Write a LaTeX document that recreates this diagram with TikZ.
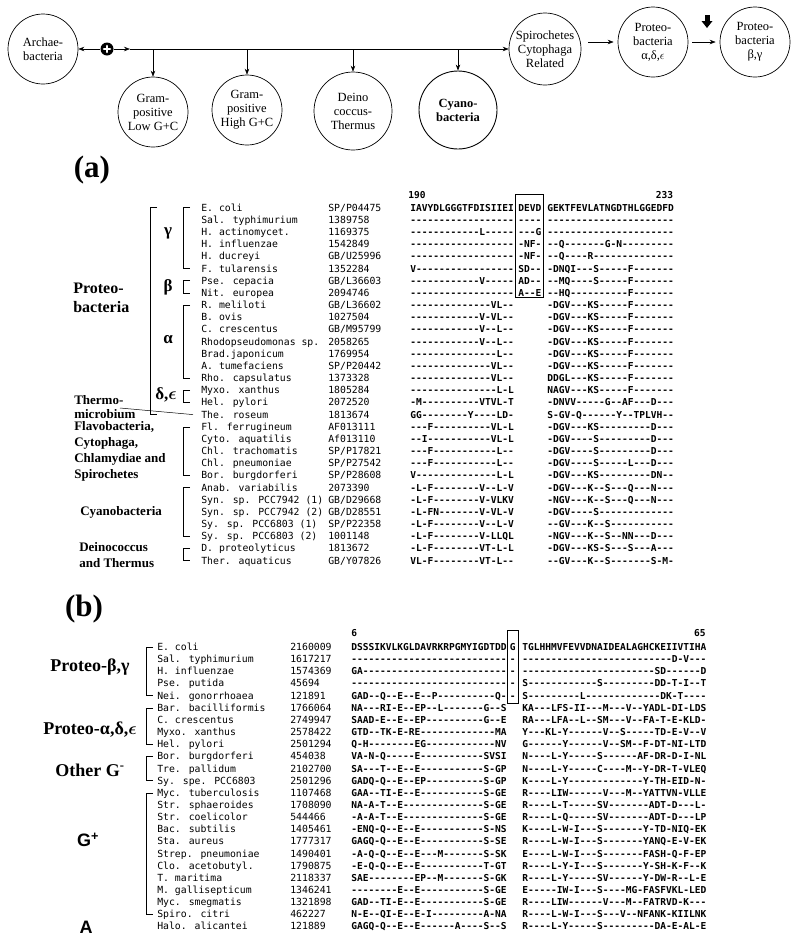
\documentclass[tikz,border=0pt]{standalone}
\usepackage{fontspec}
\setmainfont{Liberation Serif}
\setsansfont{Liberation Sans}
\newfontfamily\seqfont[Ligatures=TeXOff]{DejaVu Sans Mono}
\newfontfamily\namefont[Ligatures=TeXOff]{DejaVu Sans Mono}
\usetikzlibrary{arrows.meta,calc}
\ExplSyntaxOn
\cs_new:Npn \dsh #1 { \prg_replicate:nn {#1} {-} }
\ExplSyntaxOff
\newcommand\seqA[6]{%
 \node[nm] (an#1) at (201,{207.7+(#1-1)*12.17}) {#2};
 \node[nm] (ac#1) at (328,{207.7+(#1-1)*12.17}) {#3};
 \node[sq] (al#1) at (410,{207.7+(#1-1)*12.17}) {#4};
 \node[sq] (ab#1) at (518,{207.7+(#1-1)*12.17}) {#5};
 \node[sq] (ar#1) at (547,{207.7+(#1-1)*12.17}) {#6};
}
\newcommand\seqB[6]{%
 \node[nm] (bn#1) at (157,{647+(#1-1)*12.15}) {#2};
 \node[nm] (bc#1) at (290,{647+(#1-1)*12.15}) {#3};
 \node[sq] (bl#1) at (351,{647+(#1-1)*12.15}) {#4};
 \node[sq] (bb#1) at (509.5,{647+(#1-1)*12.15}) {#5};
 \node[sq] (br#1) at (522,{647+(#1-1)*12.15}) {#6};
}
\newcommand\brkt[4]{\draw[brk] ([xshift=-#3pt]#1.west) -- ++(-#4,0) |- ([xshift=-#3pt]#2.west);}
\begin{document}
\begin{tikzpicture}[x=1pt,y=-1pt,line width=0.6pt,
 cc/.style={circle,draw,inner sep=0pt,line width=0.7pt},
 ct/.style={align=center,inner sep=0pt,font=\fontsize{12.5}{14}\selectfont},
 arr/.style={-{Stealth[length=6pt,width=4.5pt]}},
 nm/.style={font=\namefont\fontsize{9.8}{10}\selectfont,anchor=west,inner sep=0pt,text height=7pt,text depth=0pt},
 sq/.style={font=\seqfont\bfseries\fontsize{9.55}{10}\selectfont,anchor=west,inner sep=0pt,text height=7pt,text depth=0pt},
 lbl/.style={font=\bfseries\fontsize{13}{16}\selectfont,inner sep=0pt,align=left,anchor=west},
 gk/.style={font=\bfseries\fontsize{17}{17}\selectfont,inner sep=0pt},
 bl/.style={font=\bfseries\fontsize{18}{18}\selectfont,inner sep=0pt},
 pl/.style={font=\bfseries\fontsize{31}{31}\selectfont,inner sep=0pt},
 brk/.style={line width=0.5pt}]
\useasboundingbox (0,0) rectangle (800,946);
% ---------- top scheme ----------
\node[cc,minimum size=70pt] (archae) at (43,49) {};
\node[ct] (archaet) at (archae) {Archae-\\bacteria};
\node[circle,fill=black,minimum size=13pt,inner sep=0pt] (cross) at (107,49) {};
\draw[white,line width=2.6pt,line cap=round] ([xshift=-3pt]cross.center) -- ([xshift=3pt]cross.center);
\draw[white,line width=2.6pt,line cap=round] ([yshift=-3pt]cross.center) -- ([yshift=3pt]cross.center);
\node[cc,minimum size=70pt] (gl) at (153,112) {};
\node[ct] (glt) at (gl) {Gram-\\positive\\Low G+C};
\node[cc,minimum size=70pt] (gh) at (247,110) {};
\node[ct] (ght) at (gh) {Gram-\\positive\\High G+C};
\node[cc,minimum size=78pt] (deino) at (353,111) {};
\node[ct] (deinot) at (deino) {Deino\\coccus-\\Thermus};
\node[cc,minimum size=78pt,line width=0.9pt] (cyano) at (458,110) {};
\node[ct,font=\bfseries\fontsize{12.5}{14}\selectfont] (cyanot) at (cyano) {Cyano-\\bacteria};
\node[cc,minimum size=72pt] (spiro) at (545,49) {};
\node[ct] (spirot) at (spiro) {Spirochetes\\Cytophaga\\Related};
\node[cc,minimum size=70pt] (protA) at (653,42) {};
\node[ct] (protAt) at (protA) {Proteo-\\bacteria\\α,δ,$\epsilon$};
\node[cc,minimum size=70pt] (protB) at (755,42) {};
\node[ct] (protBt) at (protB) {Proteo-\\bacteria\\β,γ};
\coordinate (m1) at (130,49);
\draw[arr] (cross) -- (archae);
\draw[arr] (cross) -- (m1);
\draw[arr] (m1) -- (m1 -| spiro.west);
\draw[arr] (gl.north |- m1) -- (gl.north);
\draw[arr] (gh.north |- m1) -- (gh.north);
\draw[arr] (deino.north |- m1) -- (deino.north);
\draw[arr] (cyano.north |- m1) -- (cyano.north);
\draw[arr] ($(spiro.east |- protA.west)+(7,0)$) -- ($(protA.west)+(-4,0)$);
\draw[arr] ($(protA.east)+(4,0)$) -- ($(protB.west)+(-4,0)$);
\fill (704.5,15) rectangle (709.5,21.5);
\fill (701.5,21) -- (712.5,21) -- (707,28) -- cycle;
% ---------- panel (a) ----------
\node[pl] (pa) at (92,170) {(a)};
\node[sq] (n190) at (408,195) {190};
\node[sq,anchor=east] (n233) at (673.5,195) {233};
\seqA{1}{E. coli}{SP/P04475}{IAVYDLGGGTFDISIIEI}{DEVD}{GEKTFEVLATNGDTHLGGEDFD}
\seqA{2}{Sal. typhimurium}{1389758}{\dsh{18}}{\dsh{4}}{\dsh{22}}
\seqA{3}{H. actinomycet.}{1169375}{\dsh{12}L\dsh{5}}{\dsh{3}G}{\dsh{22}}
\seqA{4}{H. influenzae}{1542849}{\dsh{18}}{-NF-}{--Q\dsh{7}G-N\dsh{9}}
\seqA{5}{H. ducreyi}{GB/U25996}{\dsh{18}}{-NF-}{--Q----R\dsh{14}}
\seqA{6}{F. tularensis}{1352284}{V\dsh{17}}{SD--}{-DNQI---S\dsh{5}F\dsh{7}}
\seqA{7}{Pse. cepacia}{GB/L36603}{\dsh{12}V\dsh{5}}{AD--}{--MQ----S\dsh{5}F\dsh{7}}
\seqA{8}{Nit. europea}{2094746}{\dsh{18}}{A--E}{--HQ\dsh{10}F\dsh{7}}
\seqA{9}{R. meliloti}{GB/L36602}{\dsh{14}VL--}{}{-DGV---KS\dsh{5}F\dsh{7}}
\seqA{10}{B. ovis}{1027504}{\dsh{12}V-VL--}{}{-DGV---KS\dsh{5}F\dsh{7}}
\seqA{11}{C. crescentus}{GB/M95799}{\dsh{12}V--L--}{}{-DGV---KS\dsh{5}F\dsh{7}}
\seqA{12}{Rhodopseudomonas sp.}{2058265}{\dsh{12}V--L--}{}{-DGV---KS\dsh{5}F\dsh{7}}
\seqA{13}{Brad.japonicum}{1769954}{\dsh{15}L--}{}{-DGV---KS\dsh{5}F\dsh{7}}
\seqA{14}{A. tumefaciens}{SP/P20442}{\dsh{14}VL--}{}{-DGV---KS\dsh{5}F\dsh{7}}
\seqA{15}{Rho. capsulatus}{1373328}{\dsh{14}VL--}{}{DDGL---KS\dsh{5}F\dsh{7}}
\seqA{16}{Myxo. xanthus}{1805284}{\dsh{15}L-L}{}{NAGV---KS\dsh{5}F\dsh{7}}
\seqA{17}{Hel. pylori}{2072520}{-M\dsh{10}VTVL-T}{}{-DNVV\dsh{5}G--AF---D---}
\seqA{18}{The. roseum}{1813674}{GG\dsh{8}Y----LD-}{}{S-GV-Q\dsh{6}Y--TPLVH--}
\seqA{19}{Fl. ferrugineum}{AF013111}{---F\dsh{10}VL-L}{}{-DGV---KS\dsh{9}D---}
\seqA{20}{Cyto. aquatilis}{Af013110}{--I\dsh{11}VL-L}{}{-DGV----S\dsh{9}D---}
\seqA{21}{Chl. trachomatis}{SP/P17821}{---F\dsh{11}L--}{}{-DGV----S\dsh{9}D---}
\seqA{22}{Chl. pneumoniae}{SP/P27542}{---F\dsh{11}L--}{}{-DGV----S\dsh{5}L---D---}
\seqA{23}{Bor. burgdorferi}{SP/P28608}{V\dsh{14}L-L}{}{-DGV---KS\dsh{9}DN--}
\seqA{24}{Anab. variabilis}{2073390}{-L-F\dsh{8}V--L-V}{}{-DGV---K--S---Q---N---}
\seqA{25}{Syn. sp. PCC7942 (1)}{GB/D29668}{-L-F\dsh{8}V-VLKV}{}{-NGV---K--S---Q---N---}
\seqA{26}{Syn. sp. PCC7942 (2)}{GB/D28551}{-L-FN\dsh{7}V-VL-V}{}{-DGV----S\dsh{13}}
\seqA{27}{Sy. sp. PCC6803 (1)}{SP/P22358}{-L-F\dsh{8}V--L-V}{}{--GV---K--S\dsh{11}}
\seqA{28}{Sy. sp. PCC6803 (2)}{1001148}{-L-F\dsh{8}V-LLQL}{}{-NGV---K--S--NN---D---}
\seqA{29}{D. proteolyticus}{1813672}{-L-F\dsh{8}VT-L-L}{}{-DGV---KS-S---S---A---}
\seqA{30}{Ther. aquaticus}{GB/Y07826}{VL-F\dsh{8}VT-L--}{}{--GV---K--S\dsh{7}S-M-}
\draw[brk] (515,194) rectangle (543,297);
\brkt{an1}{an18}{44}{7}
\brkt{an1}{an6}{11}{7}
\brkt{an7}{an8}{11}{7}
\brkt{an9}{an15}{11}{7}
\brkt{an16}{an17}{11}{7}
\brkt{an19}{an23}{11}{7}
\brkt{an24}{an28}{11}{7}
\brkt{an29}{an30}{11}{7}
\node[lbl,font=\bfseries\fontsize{16}{19}\selectfont] (lproteo) at (73,297.5) {Proteo-\\bacteria};
\node[gk] (lgam) at (168,233) {γ};
\node[gk] (lbet) at (168,287) {β};
\node[gk] (lalp) at (168,340) {α};
\node[gk] (ldel) at (166,395) {δ,{\boldmath$\epsilon$}};
\node[lbl,font=\bfseries\fontsize{13}{14}\selectfont] (lthermo) at (74,407) {Thermo-\\microbium};
\coordinate (thm) at (120,408);
\draw[brk] (thm) -- ([xshift=-8pt]an18.west);
\node[lbl] (lflavo) at (74,451) {Flavobacteria,\\Cytophaga,\\Chlamydiae and\\Spirochetes};
\node[lbl] (lcyano) at (80,512) {Cyanobacteria};
\node[lbl] (ldeino) at (79,555) {Deinococcus\\and Thermus};
% ---------- panel (b) ----------
\node[pl] (pb) at (84,609) {(b)};
\node[sq] (n6) at (351,633) {6};
\node[sq,anchor=east] (n65) at (706,633) {65};
\seqB{1}{E. coli}{2160009}{DSSSIKVLKGLDAVRKRPGMYIGDTDD}{G}{TGLHHMVFEVVDNAIDEALAGHCKEIIVTIHA}
\seqB{2}{Sal. typhimurium}{1617217}{\dsh{27}}{-}{\dsh{26}D-V\dsh{3}}
\seqB{3}{H. influenzae}{1574369}{GA\dsh{25}}{-}{\dsh{23}SD\dsh{6}D}
\seqB{4}{Pse. putida}{45694}{\dsh{27}}{-}{S\dsh{12}S\dsh{9}DD-T-I--T}
\seqB{5}{Nei. gonorrhoaea}{121891}{GAD--Q--E--E--P\dsh{10}Q-}{-}{S\dsh{9}L\dsh{13}DK-T\dsh{4}}
\seqB{6}{Bar. bacilliformis}{1766064}{NA---RI-E--EP--L\dsh{7}G--S}{}{KA---LFS-II---M---V--YADL-DI-LDS}
\seqB{7}{C. crescentus}{2749947}{SAAD-E--E--EP\dsh{10}G--E}{}{RA---LFA--L--SM---V--FA-T-E-KLD-}
\seqB{8}{Myxo. xanthus}{2578422}{GTD--TK-E-RE\dsh{13}MA}{}{Y---KL-Y\dsh{6}V--S\dsh{5}TD-E-V--V}
\seqB{9}{Hel. pylori}{2501294}{Q-H\dsh{8}EG\dsh{12}NV}{}{G\dsh{6}Y\dsh{6}V--SM--F-DT-NI-LTD}
\seqB{10}{Bor. burgdorferi}{454038}{VA-N-Q\dsh{5}E\dsh{11}SVSI}{}{N----L-Y\dsh{5}S\dsh{6}AF-DR-D-I-NL}
\seqB{11}{Tre. pallidum}{2102700}{SA---T--E--E\dsh{11}S-GP}{}{N----L-Y\dsh{5}C----M--Y-DR-T-VLEQ}
\seqB{12}{Sy. spe. PCC6803}{2501296}{GADQ-Q--E--EP\dsh{10}S-GP}{}{K----L-Y\dsh{13}Y-TH-EID-N-}
\seqB{13}{Myc. tuberculosis}{1107468}{GAA--TI-E--E\dsh{11}S-GE}{}{R----LIW\dsh{6}V---M--YATTVN-VLLE}
\seqB{14}{Str. sphaeroides}{1708090}{NA-A-T--E\dsh{14}S-GE}{}{R----L-T\dsh{5}SV\dsh{7}ADT-D---L-}
\seqB{15}{Str. coelicolor}{544466}{-A-A-T--E\dsh{14}S-GE}{}{R----L-Q\dsh{5}SV\dsh{7}ADT-D---LP}
\seqB{16}{Bac. subtilis}{1405461}{-ENQ-Q--E--E\dsh{11}S-NS}{}{K----L-W-I---S\dsh{7}Y-TD-NIQ-EK}
\seqB{17}{Sta. aureus}{1777317}{GAGQ-Q--E--E\dsh{11}S-SE}{}{R----L-W-I---S\dsh{7}YANQ-E-V-EK}
\seqB{18}{Strep. pneumoniae}{1490401}{-A-Q-Q--E--E---M\dsh{7}S-SK}{}{E----L-W-I---S\dsh{7}FASH-Q-F-EP}
\seqB{19}{Clo. acetobutyl.}{1790875}{-E-Q-Q--E--E\dsh{11}T-GT}{}{R----L-Y-I---S\dsh{7}Y-SH-K-F--K}
\seqB{20}{T. maritima}{2118337}{SAE\dsh{8}EP--M\dsh{7}S-GK}{}{R----L-Y\dsh{5}SV\dsh{6}Y-DW-R--L-E}
\seqB{21}{M. gallisepticum}{1346241}{\dsh{8}E--E\dsh{11}S-GE}{}{E\dsh{5}IW-I---S----MG-FASFVKL-LED}
\seqB{22}{Myc. smegmatis}{1321898}{GAD--TI-E--E\dsh{11}S-GE}{}{R----LIW\dsh{6}V---M--FATRVD-K---}
\seqB{23}{Spiro. citri}{462227}{N-E--QI-E--E-I\dsh{9}A-NA}{}{R----L-W-I---S---V--NFANK-KIILNK}
\seqB{24}{Halo. alicantei}{121889}{GAGQ-Q--E--E\dsh{6}A----S--S}{}{R----L-Y\dsh{5}S\dsh{9}DA-E-AL-E}
\draw[brk] (507.5,630) rectangle (518.5,703);
\brkt{bn1}{bn5}{4}{7}
\brkt{bn6}{bn9}{4}{7}
\brkt{bn10}{bn12}{4}{7}
\brkt{bn13}{bn23}{4}{7}
\node[bl] (lpbg) at (90,667) {Proteo-β,γ};
\node[bl] (lpade) at (90,730) {Proteo-α,δ,{\boldmath$\epsilon$}};
\node[bl] (loth) at (90,770) {Other G\textsuperscript{-}};
\node[bl,font=\sffamily\bfseries\fontsize{18}{18}\selectfont] (lgp) at (88,840) {G\textsuperscript{+}};
\node[bl,font=\sffamily\bfseries\fontsize{18}{18}\selectfont] (lA) at (86,927) {A};
\end{tikzpicture}
\end{document}
